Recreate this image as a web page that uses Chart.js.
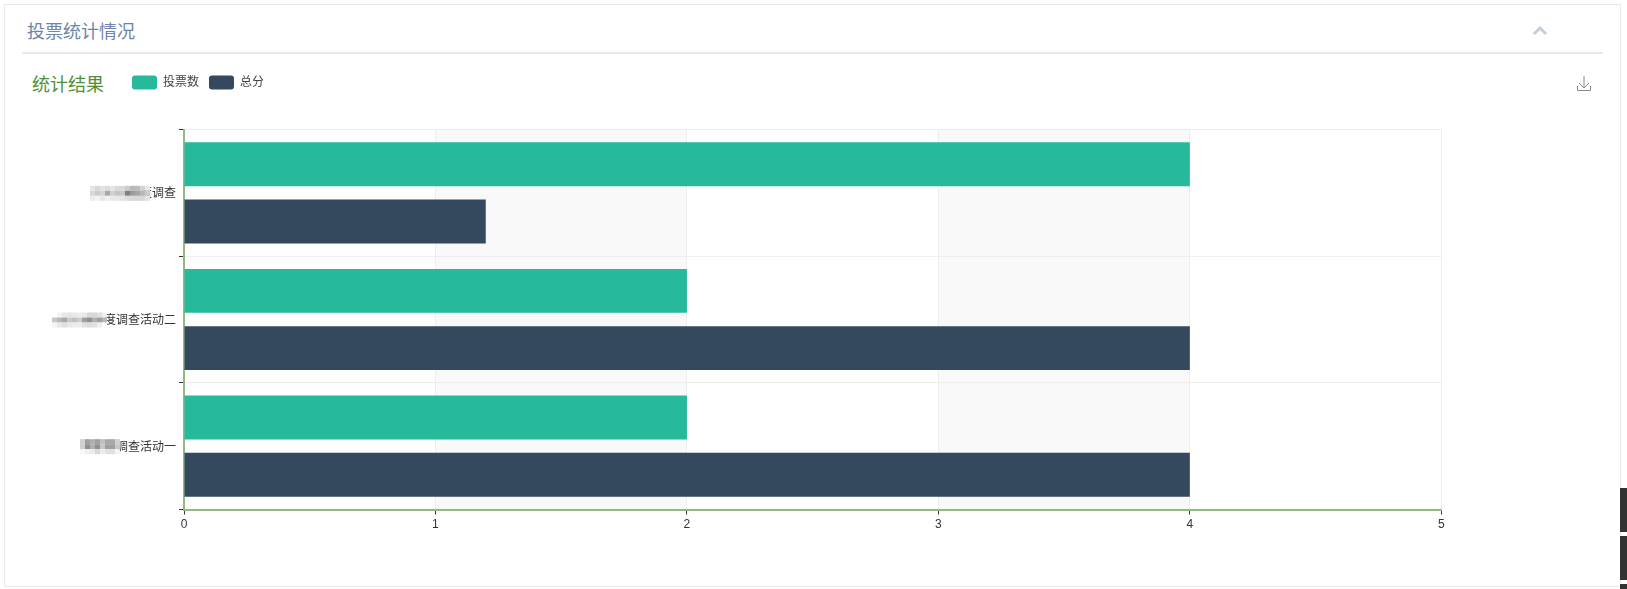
<!DOCTYPE html>
<html>
<head>
<meta charset="utf-8">
<script src="https://cdn.jsdelivr.net/npm/chart.js@4"></script>
<style>
html, body { margin: 0; padding: 0; background: #fff; overflow: hidden; }
body { width: 1627px; height: 589px; position: relative; font-family: "Noto Sans CJK SC", sans-serif; }
.panel { position: absolute; left: 4px; top: 4px; width: 1615px; height: 581px; border: 1px solid #e7eaec; }
.rule { position: absolute; left: 22px; top: 52px; width: 1581px; height: 2px; background: #e7eaec; }
.head { position: absolute; left: 27px; top: 17px; font-size: 18px; line-height: 26px; color: #6d84a6; }
.sub { position: absolute; left: 32px; top: 70px; font-size: 18px; line-height: 26px; color: #4f9135; }
.bar { position: absolute; left: 1620px; width: 7px; background: #333; }
canvas { position: absolute; left: 0; top: 0; }
svg { position: absolute; }
</style>
</head>
<body>
<div class="panel"></div>
<div class="rule"></div>
<div class="head">投票统计情况</div>
<div class="sub">统计结果</div>
<svg style="left:1532px;top:24px" width="16" height="14"><path d="M2 10 L8 4 L14 10" fill="none" stroke="#c5ced8" stroke-width="3"/></svg>
<svg style="left:1576px;top:74px" width="16" height="18"><path d="M8 2 V14 M3 9 L8 14 L13 9 M1.5 12 V16.5 H14.5 V12" fill="none" stroke="#888" stroke-width="1"/></svg>
<div class="bar" style="top:488px;height:44px"></div>
<div class="bar" style="top:536px;height:44px"></div>
<div class="bar" style="top:584px;height:5px"></div>
<canvas id="myChart" width="1627" height="589"></canvas>
<script>
var categories = ["度调查", "度调查活动二", "调查活动一"];
var voteCounts = [4, 2, 2];
var totalScores = [1.2, 4, 4];
var xTicks = [0, 1, 2, 3, 4, 5];

// gray levels of the pixelated part of each category label
var mosaicRows = [
    [[0xe6,0xd8,0xe2,0xdc,0xe4,0xd8,0xd8,0xcc,0xb8,0xbc,0xd4,0xe8],
     [0xd8,0xcc,0xd4,0xa8,0xd0,0xc4,0xc8,0x80,0x9c,0xa4,0xb8,0xcc],
     [0xee,0xf4,0xe8,0xf0,0xe8,0xe8,0xe4,0xdc,0xd8,0xd8,0xd8,0xe4]],
    [[0xff,0xf4,0xe8,0xe4,0xe8,0xec,0xe8,0xd8,0xd8,0xe0,0xf0],
     [0xc8,0xb8,0xa8,0xc8,0xc0,0xcc,0xa0,0x90,0xb0,0xa0,0xb8],
     [0xf4,0xe8,0xe0,0xe8,0xec,0xec,0xe0,0xdc,0xe0,0xf0,0xff]],
    [[0xd0,0xa0,0xb0,0xa0,0xc0,0xa8,0xa8,0xd0],
     [0xd0,0x90,0xb0,0x90,0xc8,0xa0,0xa0,0xc8],
     [0xf8,0xf0,0xec,0xd8,0xec,0xe0,0xe0,0xf4]]
];
var mosaicRight = [34, 77, 64];

var fontFamily = '"Liberation Sans", "Noto Sans CJK SC", sans-serif';

// alternate shaded columns behind the grid
var splitArea = {
    id: "splitArea",
    beforeDraw: function(chart) {
        var ctx = chart.ctx, x = chart.scales.x, area = chart.chartArea;
        ctx.save();
        ctx.fillStyle = "#f9f9f9";
        for (var i = 1; i < xTicks.length - 1; i += 2) {
            var a = x.getPixelForValue(xTicks[i]);
            var b = x.getPixelForValue(xTicks[i + 1]);
            ctx.fillRect(a, area.top, b - a, area.bottom - area.top);
        }
        ctx.restore();
    }
};

// blurred part of the labels
var labelMosaic = {
    id: "labelMosaic",
    afterDraw: function(chart) {
        var ctx = chart.ctx, y = chart.scales.y, cell = 5;
        ctx.save();
        mosaicRows.forEach(function(rows, k) {
            var right = y.left + y.width - mosaicRight[k];
            var top = y.getPixelForTick(k) - 7;
            rows.forEach(function(row, r) {
                row.forEach(function(g, c) {
                    ctx.fillStyle = "rgb(" + g + "," + g + "," + g + ")";
                    ctx.fillRect(right - (row.length - c) * cell, top + r * cell, cell, cell);
                });
            });
        });
        ctx.restore();
    }
};

// legend row sits right of the subtitle, with room left under it
var legendPlace = {
    id: "legendPlace",
    beforeLayout: function(chart) {
        var legend = chart.legend;
        if (legend && !legend._placed) {
            var fit = legend.fit;
            legend.fit = function() {
                fit.call(this);
                this.height = 64;
            };
            legend._placed = true;
        }
    },
    afterLayout: function(chart) {
        chart.legend.left = 122;
    }
};

new Chart(document.getElementById("myChart"), {
    type: "bar",
    data: {
        labels: categories,
        datasets: [
            { label: "投票数", data: voteCounts, backgroundColor: "#26b99a", borderWidth: 0, borderRadius: 0 },
            { label: "总分", data: totalScores, backgroundColor: "#34495e", borderWidth: 0, borderRadius: 0 }
        ]
    },
    options: {
        indexAxis: "y",
        responsive: false,
        animation: false,
        barPercentage: 0.768,
        categoryPercentage: 0.904,
        layout: { padding: { left: 0, right: 185.7, top: 65.5, bottom: 49.5 } },
        scales: {
            x: {
                min: 0,
                max: 5,
                afterBuildTicks: function(scale) {
                    scale.ticks = xTicks.map(function(v) { return { value: v }; });
                },
                grid: { color: "#eeeeee", tickColor: "#333333", tickLength: 5 },
                border: { color: "#90bb80", width: 2 },
                ticks: { color: "#333333", padding: 3, maxRotation: 0, font: { family: fontFamily, size: 12 } },
                afterFit: function(scale) { scale.height = 30; }
            },
            y: {
                grid: { color: "#eeeeee", tickColor: "#333333", tickLength: 5 },
                border: { color: "#90bb80", width: 2 },
                ticks: { color: "#333333", padding: 3, font: { family: '"Noto Sans CJK SC", sans-serif', size: 12 } },
                afterFit: function(scale) { scale.width = 184; }
            }
        },
        plugins: {
            tooltip: { enabled: false },
            legend: {
                position: "top",
                align: "start",
                labels: {
                    boxWidth: 25,
                    boxHeight: 14,
                    padding: 10,
                    color: "#444444",
                    useBorderRadius: true,
                    borderRadius: 3,
                    font: { family: fontFamily, size: 12 }
                }
            }
        }
    },
    plugins: [splitArea, labelMosaic, legendPlace]
});
</script>
</body>
</html>
